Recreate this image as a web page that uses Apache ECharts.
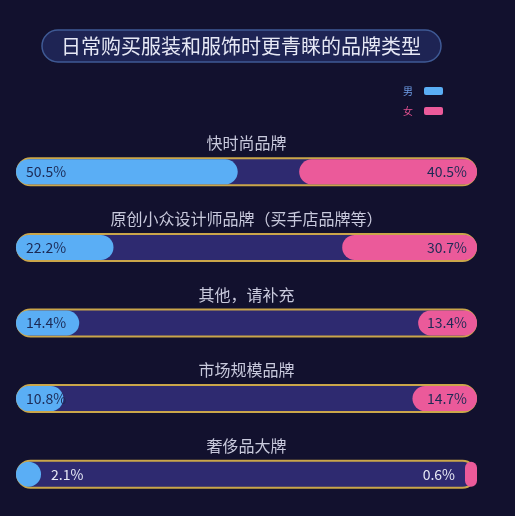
<!DOCTYPE html><html><head><meta charset="utf-8"><script src="https://cdn.jsdelivr.net/npm/echarts@6/dist/echarts.min.js"></script>
<style>html,body{margin:0;background:#12112e}#c{width:515px;height:516px}</style></head><body><div id="c"></div><script>
const categories=['快时尚品牌','原创小众设计师品牌（买手店品牌等）','其他，请补充','市场规模品牌','奢侈品大牌'];
const male=[50.5,22.2,14.4,10.8,2.1];
const female=[40.5,30.7,13.4,14.7,0.6];
const trackMax=105;
const FONT='"Noto Sans CJK SC","Noto Sans",sans-serif';
const c=echarts.init(document.getElementById('c'));
const ya=()=>({type:'category',data:categories,inverse:true,show:false});
const grid={left:16,right:38,top:134,bottom:4};
c.setOption({
backgroundColor:'#12112e',
textStyle:{fontFamily:FONT},
graphic:[{type:'rect',shape:{x:42,y:30,width:399,height:32,r:16},style:{fill:'#1e2454',stroke:'#3f5a95',lineWidth:1.5}},
{type:'text',style:{x:241,y:46,text:'日常购买服装和服饰时更青睐的品牌类型',fill:'#e6e8f5',font:'20px '+FONT,align:'center',verticalAlign:'middle'}}],
legend:{orient:'vertical',right:67,top:81,align:'right',itemWidth:19,itemHeight:8,itemGap:10,icon:'roundRect',
 data:[{name:'男',textStyle:{color:'#6f9ee8'}},{name:'女',textStyle:{color:'#e0508f'}}],textStyle:{fontSize:10,padding:[0,6,0,0]}},
grid:grid,
xAxis:[{type:'value',min:0,max:trackMax,show:false},{type:'value',min:0,max:trackMax,show:false,inverse:true}],
yAxis:[ya(),ya(),ya()],
series:[
{type:'bar',name:'track',xAxisIndex:0,yAxisIndex:0,barWidth:29,silent:true,data:categories.map(()=>trackMax),
 itemStyle:{color:'#2e2a70',borderColor:'#caa64a',borderWidth:2,borderRadius:15},
 label:{show:true,position:'top',distance:6,formatter:p=>categories[p.dataIndex],color:'#c8c9dc',fontSize:16}},
{type:'bar',name:'男',xAxisIndex:0,yAxisIndex:1,barWidth:25,barMinHeight:25,data:male.map((v,i)=>({value:v,label:v<5?{position:'right',color:'#e6e8f5'}:{}})),
 itemStyle:{color:'#5aaef5',borderRadius:13},
 label:{show:true,position:'insideLeft',distance:10,formatter:'{c}%',color:'#1c2a55',fontSize:14}},
{type:'bar',name:'女',xAxisIndex:1,yAxisIndex:2,barWidth:25,barMinHeight:12,data:female.map((v,i)=>({value:v,label:v<5?{position:'left',color:'#e6e8f5'}:{}})),
 itemStyle:{color:'#eb5a9a',borderRadius:13},
 label:{show:true,position:'insideRight',distance:10,formatter:'{c}%',color:'#1c2a55',fontSize:14}}
]});
</script></body></html>
